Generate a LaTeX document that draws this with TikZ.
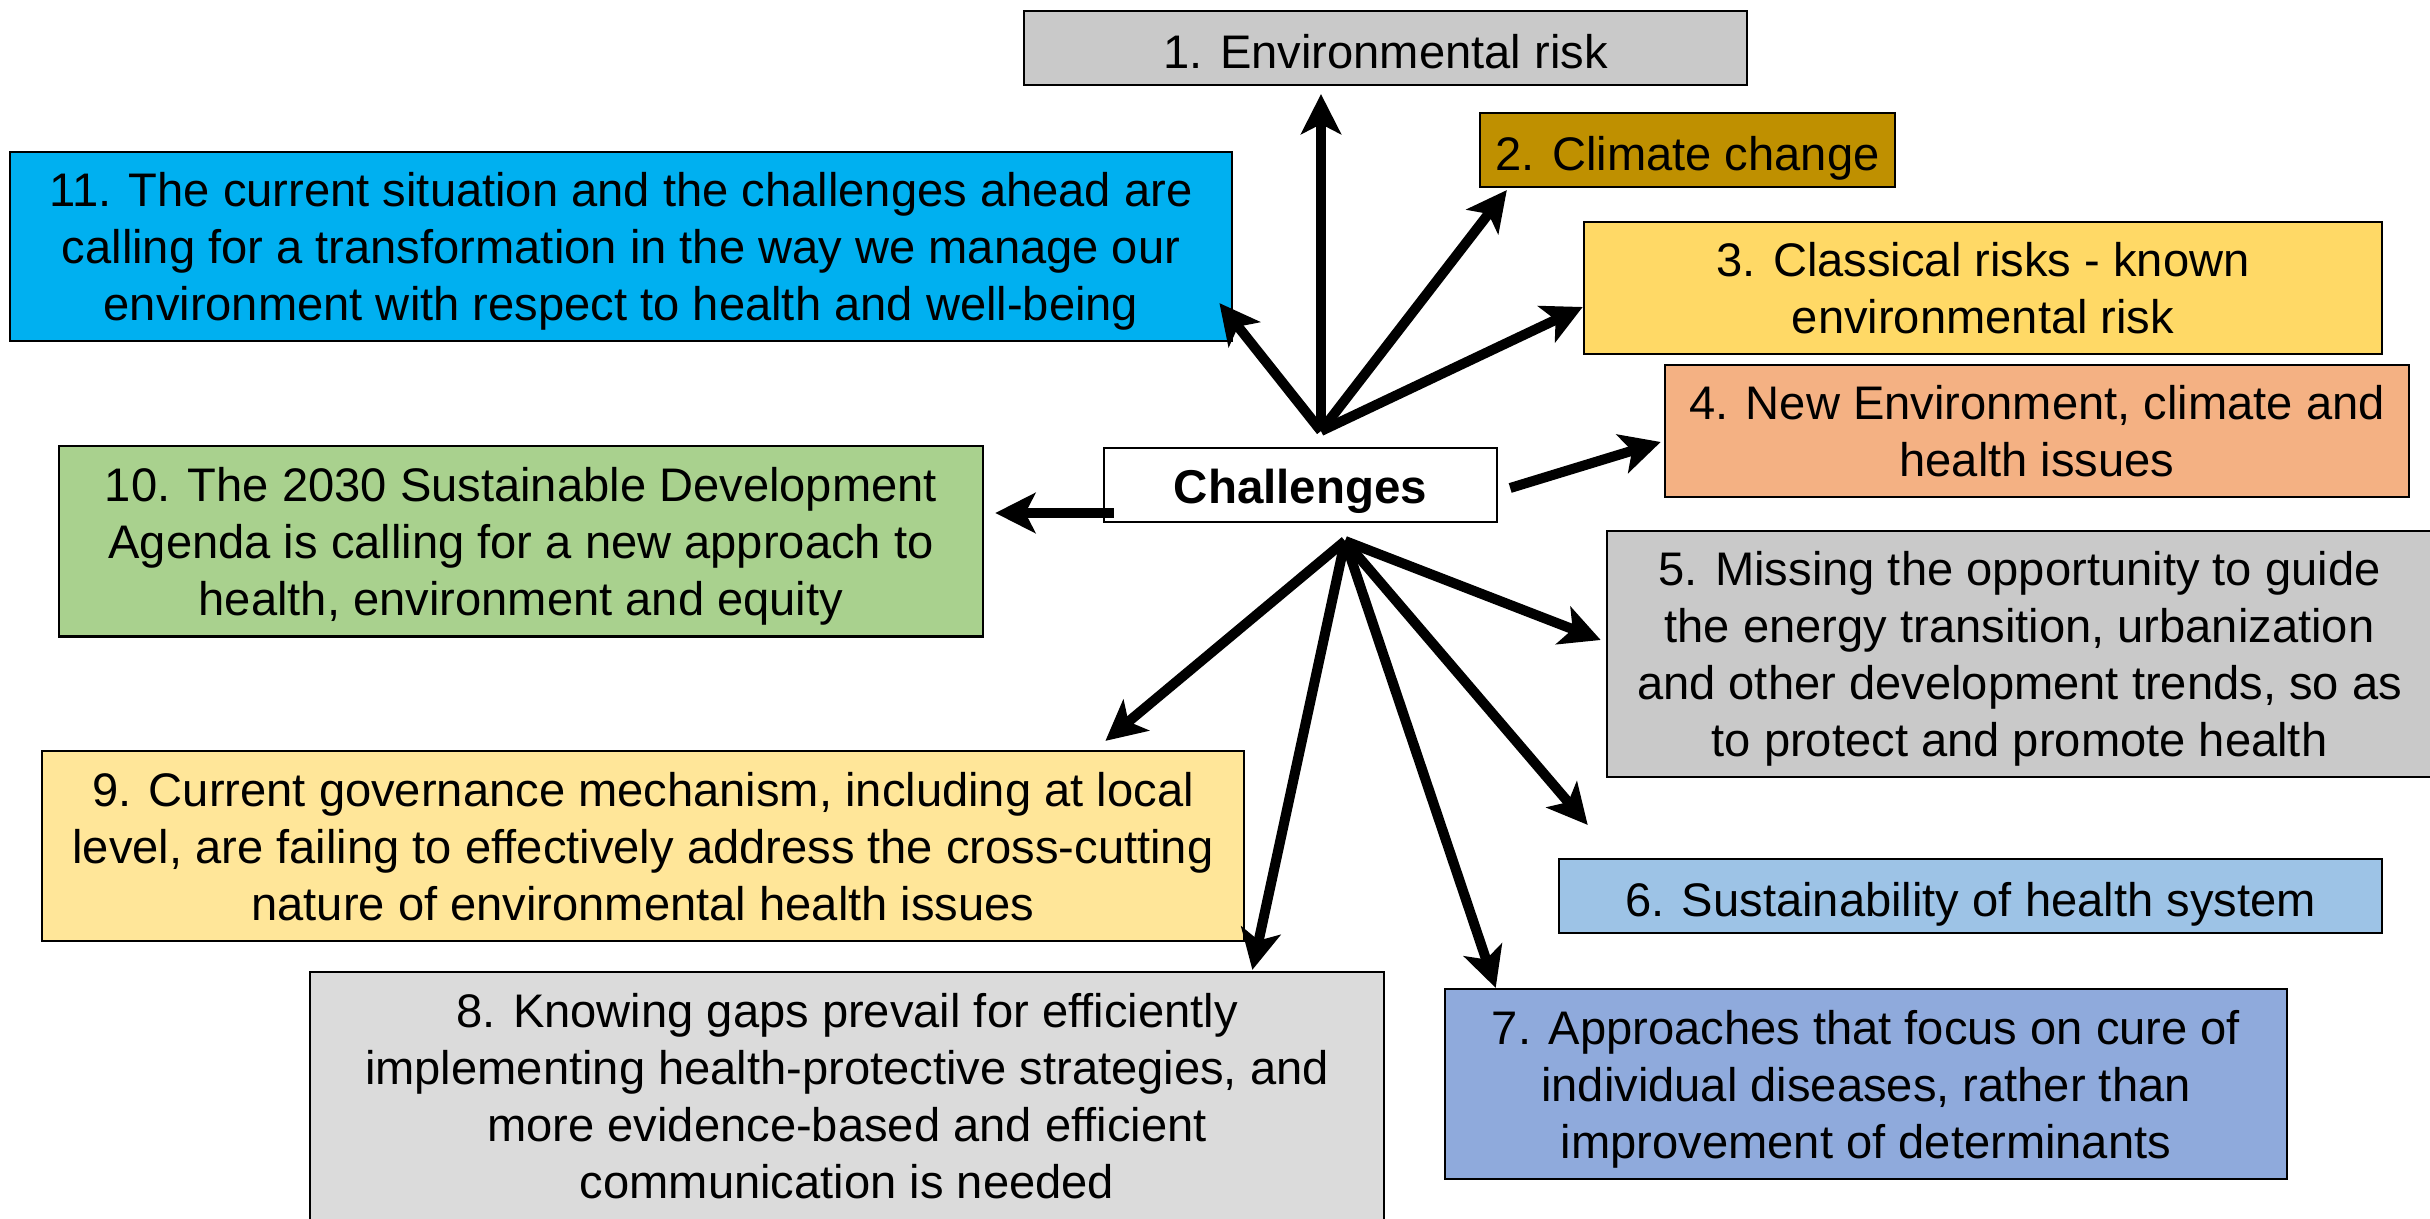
\documentclass[tikz,border=0pt]{standalone}
\usepackage{fontspec}
\setmainfont{Liberation Sans}
\usetikzlibrary{arrows.meta,calc}
\definecolor{riskgray}{HTML}{C9C9C9}
\definecolor{climategold}{HTML}{BF9000}
\definecolor{classicyellow}{HTML}{FFD966}
\definecolor{neworange}{HTML}{F4B183}
\definecolor{missgray}{HTML}{C9C9C9}
\definecolor{sustblue}{HTML}{9DC3E6}
\definecolor{cureblue}{HTML}{8FAADC}
\definecolor{gapgray}{HTML}{DBDBDB}
\definecolor{govyellow}{HTML}{FFE699}
\definecolor{sdggreen}{HTML}{A9D18E}
\definecolor{transcyan}{HTML}{00B0F0}
\tikzset{
  card/.style={draw=black,line width=0.6pt,inner xsep=3pt,inner ysep=0pt,
               align=center,text=black},
  % struts keep one-line texts sitting the same way in their boxes
  box/.style={card,font=\fontsize{13.4}{16.2}\selectfont,
              execute at begin node={\rule{0pt}{15.3pt}},
              execute at end node={\rule[-3.5pt]{0pt}{3.5pt}}},
  % several lines: drop the block a little lower
  tallbox/.style={box,text depth=-3pt},
  hubbox/.style={card,fill=white,font=\fontsize{13.5}{16}\selectfont\bfseries,
                 execute at begin node={\rule{0pt}{13.8pt}},
                 execute at end node={\rule[-3.5pt]{0pt}{3.5pt}}},
  fan/.style={-{Stealth[length=0.4cm,width=0.4cm,inset=0.1cm]},line width=0.1cm,draw=black}
}

\begin{document}
\begin{tikzpicture}[x=0.01cm,y=-0.01cm]
  \useasboundingbox (0,0) rectangle (2430,1219);
  % centre node
  \node[hubbox,minimum width=3.93cm,minimum height=0.74cm] (challenges) at (1300.5,485) {Challenges};
  % upper fan
  \node[box,fill=riskgray,minimum width=7.23cm,minimum height=0.74cm] (risk) at (1385.5,48) {1. Environmental risk};
  \node[box,fill=climategold,minimum width=4.15cm,minimum height=0.74cm] (climate) at (1687.5,150) {2. Climate change};
  \node[tallbox,fill=classicyellow,minimum width=7.98cm,minimum height=1.32cm] (classic) at (1983,288) {3. Classical risks - known\\environmental risk};
  \node[tallbox,fill=neworange,minimum width=7.44cm,minimum height=1.32cm] (newenv) at (2037,431) {4. New Environment, climate and\\health issues};
  \node[tallbox,fill=transcyan,minimum width=12.22cm,minimum height=1.89cm] (transform) at (621,246.5) {11. The current situation and the challenges ahead are\\calling for a transformation in the way we manage our\\environment with respect to health and well-being};
  \node[tallbox,fill=sdggreen,minimum width=9.24cm,minimum height=1.90cm] (sdg) at (521,541.5) {10. The 2030 Sustainable Development\\Agenda is calling for a new approach to\\health, environment and equity};
  % lower fan
  \node[tallbox,fill=missgray,minimum width=8.25cm,minimum height=2.46cm] (missing) at (2019.5,654) {5. Missing the opportunity to guide\\the energy transition, urbanization\\and other development trends, so as\\to protect and promote health};
  \node[box,fill=sustblue,minimum width=8.23cm,minimum height=0.74cm] (sustain) at (1970.5,896) {6. Sustainability of health system};
  \node[tallbox,fill=cureblue,minimum width=8.42cm,minimum height=1.90cm] (cure) at (1866,1084) {7. Approaches that focus on cure of\\individual diseases, rather than\\improvement of determinants};
  \node[tallbox,fill=gapgray,minimum width=10.74cm,minimum height=2.48cm] (gaps) at (847,1096) {8. Knowing gaps prevail for efficiently\\implementing health-protective strategies, and\\more evidence-based and efficient\\communication is needed};
  \node[tallbox,fill=govyellow,minimum width=12.02cm,minimum height=1.90cm] (govern) at (643,846) {9. Current governance mechanism, including at local\\level, are failing to effectively address the cross-cutting\\nature of environmental health issues};

  \coordinate (upHub) at (1321,431);
  \coordinate (lowHub) at (1345,541);
  \coordinate (leftTail) at ($(challenges.west)+(11,28)$);
  \coordinate (rightTail) at ($(challenges.east)+(12,3)$);

  \draw[fan] (upHub) -- (upHub |- risk.south) [shorten >=0.08cm];
  \draw[fan] (upHub) -- ($(climate.south west)+(28,2)$);
  \draw[fan] (upHub) -- ($(classic.west)+(0,19)$);
  \draw[fan] (upHub) -- ($(transform.south east)+(-14,-39)$);
  \draw[fan] (rightTail) -- ($(newenv.west)+(-3,11)$);
  \draw[fan,shorten >=0.11cm] (leftTail) -- (leftTail -| sdg.east);
  \draw[fan] (lowHub) -- ($(missing.west)+(-5,-14)$);
  \draw[fan] (lowHub) -- ($(sustain.north west)+(30,-33)$);
  \draw[fan] (lowHub) -- ($(cure.north west)+(52,0)$);
  \draw[fan] (lowHub) -- ($(gaps.north east)+(-133,-1)$);
  \draw[fan] (lowHub) -- ($(govern.north east)+(-140,-9)$);
\end{tikzpicture}
\end{document}
